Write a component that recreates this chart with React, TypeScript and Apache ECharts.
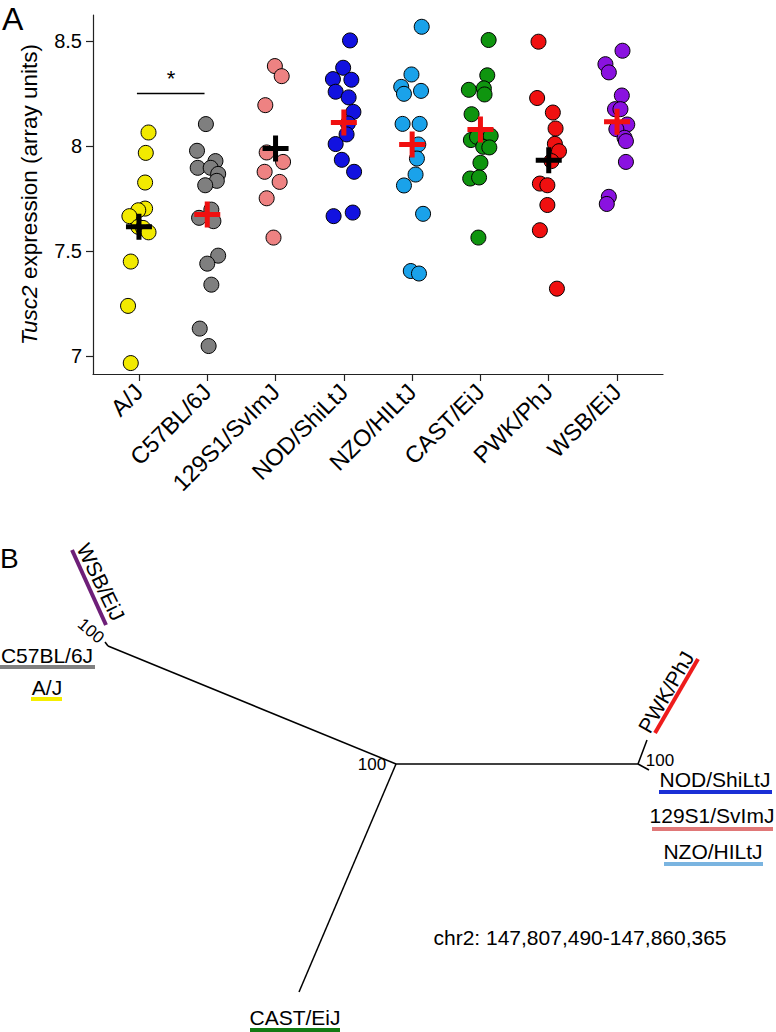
import React, { useEffect, useRef } from "react";
import * as echarts from "echarts";

// ---------- Panel A data ----------
const strains = ["A/J", "C57BL/6J", "129S1/SvImJ", "NOD/ShiLtJ", "NZO/HILtJ", "CAST/EiJ", "PWK/PhJ", "WSB/EiJ"];
const strainColors = ["#F2EA00", "#7F7F7F", "#EE8282", "#1212E0", "#1AA2EA", "#0F950F", "#F01010", "#8A12E0"];

const ajValues = [8.065, 7.968, 7.827, 7.703, 7.695, 7.667, 7.616, 7.611, 7.59, 7.451, 7.24, 6.968];
const ajJitter = [0.14, 0.1, 0.09, 0.09, -0.01, -0.14, -0.01, 0.06, 0.14, -0.12, -0.16, -0.12];
const c57Values = [8.105, 7.978, 7.929, 7.897, 7.897, 7.868, 7.835, 7.814, 7.698, 7.659, 7.643, 7.479, 7.441, 7.341, 7.132, 7.049];
const c57Jitter = [-0.02, -0.15, 0.12, -0.14, 0.05, 0.16, 0.14, -0.03, 0.06, -0.12, 0.09, 0.16, 0.0, 0.06, -0.11, 0.02];
const s129Values = [8.381, 8.333, 8.195, 7.97, 7.925, 7.878, 7.83, 7.752, 7.565];
const s129Jitter = [-0.01, 0.09, -0.15, -0.13, 0.11, -0.16, 0.06, -0.13, -0.03];
const nodValues = [8.503, 8.373, 8.319, 8.316, 8.259, 8.232, 8.163, 8.108, 8.056, 8.01, 7.935, 7.878, 7.667, 7.684];
const nodJitter = [0.09, -0.01, -0.16, 0.11, -0.12, 0.07, 0.14, 0.06, 0.04, -0.12, -0.03, 0.15, -0.15, 0.13];
const nzoValues = [8.568, 8.341, 8.282, 8.249, 8.263, 8.106, 8.106, 8.008, 7.941, 7.865, 7.813, 7.678, 7.406, 7.394];
const nzoJitter = [0.14, -0.01, -0.16, -0.12, 0.13, -0.14, 0.11, 0.09, 0.07, 0.05, -0.12, 0.16, -0.02, 0.1];
const castValues = [8.505, 8.337, 8.268, 8.275, 8.246, 8.152, 8.029, 8.044, 8.049, 7.997, 7.994, 7.921, 7.846, 7.851, 7.565];
const castJitter = [0.12, 0.1, -0.17, 0.05, 0.06, -0.13, -0.14, -0.05, 0.15, 0.04, 0.13, 0.0, -0.15, -0.02, -0.03];
const pwkValues = [8.497, 8.229, 8.16, 8.084, 8.011, 7.976, 7.929, 7.822, 7.814, 7.72, 7.6, 7.322];
const pwkJitter = [-0.15, -0.17, 0.06, 0.1, 0.09, 0.15, 0.04, -0.13, -0.02, -0.02, -0.13, 0.12];
const wsbValues = [8.454, 8.39, 8.351, 8.241, 8.176, 8.176, 8.103, 8.081, 8.04, 8.024, 7.925, 7.759, 7.725];
const wsbJitter = [0.08, -0.17, -0.12, 0.07, -0.03, 0.05, 0.15, -0.01, 0.11, 0.13, 0.13, -0.12, -0.15];

const allValues = [ajValues, c57Values, s129Values, nodValues, nzoValues, castValues, pwkValues, wsbValues];
const allJitter = [ajJitter, c57Jitter, s129Jitter, nodJitter, nzoJitter, castJitter, pwkJitter, wsbJitter];

const strainMeans = [7.617, 7.675, 7.989, 8.113, 8.008, 8.079, 7.933, 8.116];
const meanColors = ["#000000", "#F01010", "#000000", "#F01010", "#F01010", "#F01010", "#000000", "#F01010"];

const yTicks = [7, 7.5, 8, 8.5];
const yTickLabels = ["7", "7.5", "8", "8.5"];
const xTicks = [0, 1, 2, 3, 4, 5, 6, 7];

const bracketX = [-0.03, 0.96];
const bracketY = 8.25;
const starPoint = [0.47, 8.32];

// ---------- Panel B data (tree layout units) ----------
const treeEdges = [
  [[396, 224], [108, 106]],
  [[396, 224], [638, 224]],
  [[396, 224], [299, 452]],
  [[108, 106], [105, 102]],
  [[638, 224], [647, 200]],
  [[638, 224], [649, 230]],
];
const leafNames = ["WSB/EiJ", "C57BL/6J", "A/J", "PWK/PhJ", "NOD/ShiLtJ", "129S1/SvImJ", "NZO/HILtJ", "CAST/EiJ"];
const leafLabelPos = [[101, 42], [47, 115], [47, 147], [666, 152], [715, 239], [712, 275], [713, 311], [295, 477]];
const leafLabelRotate = [-64, 0, 0, 60, 0, 0, 0, 0];
const leafBars = [
  [[72, 10], [106, 85]],
  [[0, 127], [95, 127]],
  [[31, 159], [62, 159]],
  [[655, 193], [698, 119]],
  [[659, 252], [772, 252]],
  [[652, 289], [773, 289]],
  [[664, 324], [763, 324]],
  [[250, 490], [340, 490]],
];
const leafBarColors = ["#6E1F78", "#808080", "#F5EE00", "#EE1C1C", "#1A2FD6", "#E07878", "#7AB4E0", "#137A13"];
const bootstrapLabels = ["100", "100", "100"];
const bootstrapPos = [[91, 91], [372, 224], [660, 220]];
const bootstrapRotate = [-40, 0, 0];
const regionText = "chr2: 147,807,490-147,860,365";
const regionPos = [580, 397];

const crossPath = "path://M0,10.5H26V15.5H0Z M10.5,0H15.5V26H10.5Z";

export default function App() {
  const ref = useRef<HTMLDivElement>(null);

  useEffect(() => {
    if (!ref.current) return;
    const chart = echarts.init(ref.current, undefined, { renderer: "svg" });
    const font = "Liberation Sans, Arial, sans-serif";
    const plainLabel = {
      show: true,
      position: "inside",
      color: "#000",
      fontFamily: font,
      textBorderWidth: 0,
      textShadowBlur: 0,
      opacity: 1,
    };
    const textHolder = { symbolSize: 0, itemStyle: { opacity: 1 }, emphasis: { disabled: true } };

    const strainSeries = allValues.map((vals, i) => ({
      type: "scatter",
      xAxisIndex: 0,
      yAxisIndex: 0,
      symbol: "circle",
      symbolSize: 15,
      itemStyle: { color: strainColors[i], borderColor: "#000", borderWidth: 1, opacity: 1 },
      data: vals.map((v, j) => [i + allJitter[i][j], v]),
      z: 3,
    }));

    const option: any = {
      animation: false,
      backgroundColor: "#fff",
      textStyle: { fontFamily: font },
      grid: [
        { left: 93, top: 15, width: 570, height: 359 },
        { left: 0, top: 540, width: 776, height: 492 },
      ],
      xAxis: [
        {
          gridIndex: 0,
          type: "value",
          min: -0.673,
          max: 7.673,
          axisLine: { show: true, onZero: false, lineStyle: { color: "#222", width: 1.2 } },
          axisTick: { show: true, customValues: xTicks, length: 7, lineStyle: { color: "#222", width: 1.2 } },
          axisLabel: {
            show: true,
            customValues: xTicks,
            rotate: 45,
            margin: 14,
            fontSize: 23.5,
            color: "#000",
            fontFamily: font,
            formatter: (v: number) => strains[Math.round(v)] ?? "",
          },
          splitLine: { show: false },
        },
        { gridIndex: 1, type: "value", min: 0, max: 776, show: false },
      ],
      yAxis: [
        {
          gridIndex: 0,
          type: "value",
          min: 6.916,
          max: 8.624,
          axisLine: { show: true, onZero: false, lineStyle: { color: "#222", width: 1.2 } },
          axisTick: { show: true, customValues: yTicks, length: 7, lineStyle: { color: "#222", width: 1.2 } },
          axisLabel: {
            show: true,
            customValues: yTicks,
            margin: 11,
            fontSize: 20,
            color: "#000",
            fontFamily: font,
            formatter: (v: number) => yTickLabels[yTicks.indexOf(v)] ?? String(v),
          },
          splitLine: { show: false },
          name: "{it|Tusc2} expression (array units)",
          nameLocation: "middle",
          nameGap: 52,
          nameRotate: 90,
          nameTextStyle: {
            fontSize: 22.5,
            color: "#000",
            fontFamily: font,
            rich: { it: { fontStyle: "italic", fontSize: 22.5, color: "#000", fontFamily: font } },
          },
        },
        { gridIndex: 1, type: "value", min: 0, max: 492, inverse: true, show: false },
      ],
      graphic: [
        { type: "text", left: 2, top: 3, style: { text: "A", fontSize: 32, fill: "#000", fontFamily: font } },
        { type: "text", left: 0, top: 544, style: { text: "B", fontSize: 28, fill: "#000", fontFamily: font } },
      ],
      series: [
        ...strainSeries,
        {
          type: "scatter",
          xAxisIndex: 0,
          yAxisIndex: 0,
          symbol: crossPath,
          symbolSize: 26,
          symbolKeepAspect: true,
          itemStyle: { opacity: 1 },
          data: strainMeans.map((m, i) => ({ value: [i, m], itemStyle: { color: meanColors[i], opacity: 1 } })),
          z: 5,
        },
        {
          type: "line",
          xAxisIndex: 0,
          yAxisIndex: 0,
          symbol: "none",
          lineStyle: { color: "#000", width: 1.5, opacity: 1 },
          data: bracketX.map((x) => [x, bracketY]),
          z: 4,
        },
        {
          type: "scatter",
          xAxisIndex: 0,
          yAxisIndex: 0,
          ...textHolder,
          data: [starPoint],
          label: { ...plainLabel, formatter: "*", fontSize: 22 },
        },
        // Panel B: tree edges
        {
          type: "lines",
          coordinateSystem: "cartesian2d",
          xAxisIndex: 1,
          yAxisIndex: 1,
          lineStyle: { color: "#000", width: 1.5, opacity: 1 },
          data: treeEdges.map((e) => ({ coords: e })),
          z: 3,
        },
        {
          type: "lines",
          coordinateSystem: "cartesian2d",
          xAxisIndex: 1,
          yAxisIndex: 1,
          data: leafBars.map((b, i) => ({ coords: b, lineStyle: { color: leafBarColors[i], width: 4, opacity: 1 } })),
          z: 3,
        },
        {
          type: "scatter",
          xAxisIndex: 1,
          yAxisIndex: 1,
          ...textHolder,
          data: leafNames.map((n, i) => ({
            value: leafLabelPos[i],
            name: n,
            label: { rotate: leafLabelRotate[i] },
          })),
          label: { ...plainLabel, formatter: (p: any) => p.name, fontSize: 21 },
        },
        {
          type: "scatter",
          xAxisIndex: 1,
          yAxisIndex: 1,
          ...textHolder,
          data: bootstrapLabels.map((n, i) => ({
            value: bootstrapPos[i],
            name: n,
            label: { rotate: bootstrapRotate[i] },
          })),
          label: { ...plainLabel, formatter: (p: any) => p.name, fontSize: 17 },
        },
        {
          type: "scatter",
          xAxisIndex: 1,
          yAxisIndex: 1,
          ...textHolder,
          data: [{ value: regionPos, name: regionText }],
          label: { ...plainLabel, formatter: (p: any) => p.name, fontSize: 21 },
        },
      ],
    };

    chart.setOption(option);
    return () => chart.dispose();
  }, []);

  return (
    <div
      ref={ref}
      style={{ position: "absolute", left: 0, top: 0, width: 776, height: 1032, background: "#fff" }}
    />
  );
}
